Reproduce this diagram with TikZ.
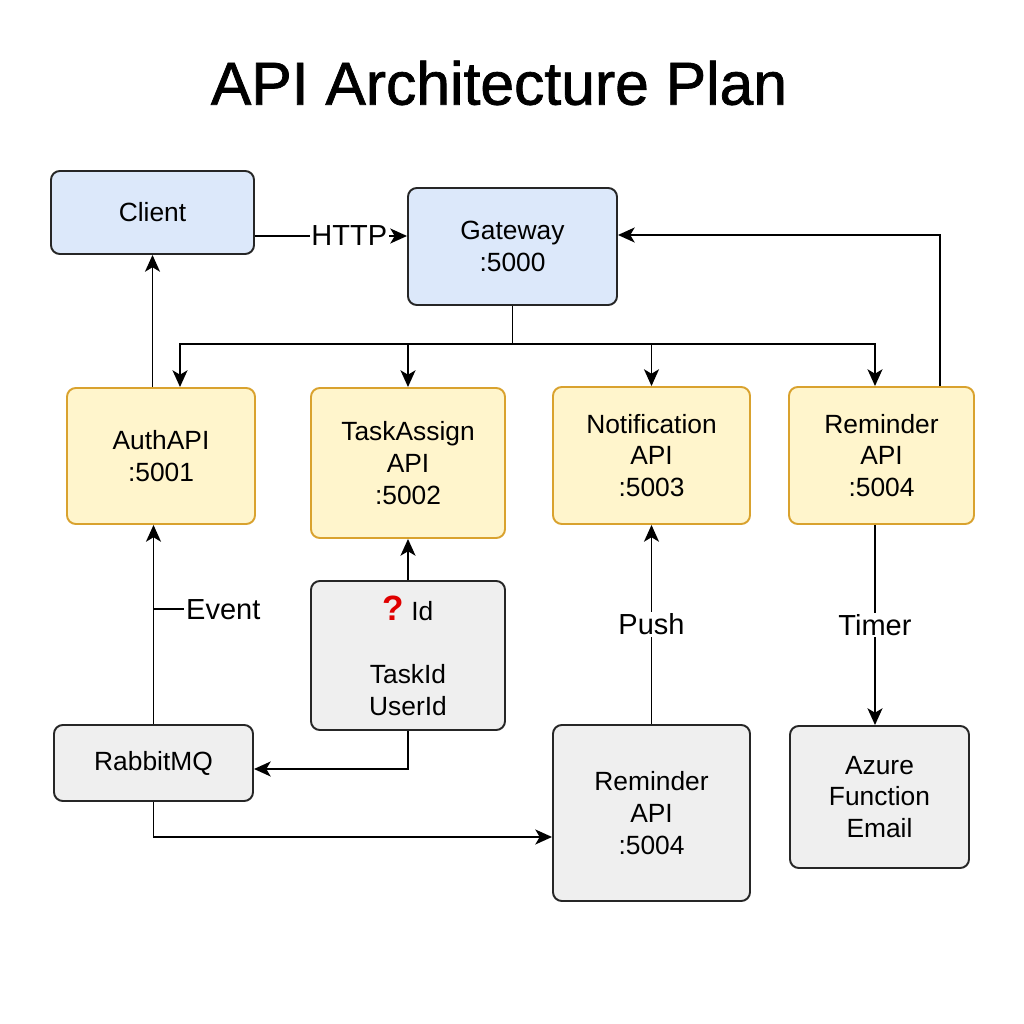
\documentclass[tikz,border=0pt]{standalone}
\usepackage{fontspec}
\setmainfont{Liberation Sans}
\newfontfamily\titlefont[FakeBold=1.2]{Liberation Sans}
\usepackage{xcolor}
\usetikzlibrary{arrows.meta,positioning}

\definecolor{gwblue}{HTML}{DCE8FA}
\definecolor{apiyellow}{HTML}{FFF5CC}
\definecolor{apiborder}{HTML}{D9A22E}
\definecolor{msggray}{HTML}{EFEFEF}
\definecolor{qred}{HTML}{E00000}

\tikzset{
  box/.style={draw=black!85, line width=1.1pt, rounded corners=5pt, align=center,
    font=\fontsize{15}{18}\selectfont, inner sep=0pt},
  bluebox/.style={box, fill=gwblue},
  apibox/.style={box, fill=apiyellow, draw=apiborder},
  graybox/.style={box, fill=msggray},
  arr/.style={-{Stealth[length=9.5pt,width=8.5pt,inset=2.5pt]}, line width=1.1pt},
  lbl/.style={fill=white, inner sep=1pt, font=\fontsize{16.5}{20}\selectfont}
}

\begin{document}
\begin{tikzpicture}
  \useasboundingbox (0,0) rectangle (20.48,20.48);

  \node (title) at (9.98,18.82) {\titlefont\fontsize{34.5}{40}\selectfont API Architecture Plan};

  % client and gateway
  \node[bluebox, minimum width=4.06cm, minimum height=1.66cm] (client) at (3.05,16.23) {Client};
  \node[bluebox, minimum width=4.18cm, minimum height=2.34cm] (gw) at (10.25,15.55) {Gateway\\:5000};

  % services
  \node[apibox, minimum width=3.76cm, minimum height=2.72cm] (auth) at (3.22,11.36) {AuthAPI\\:5001};
  \node[apibox, minimum width=3.88cm, minimum height=3.00cm] (task) at (8.16,11.22) {TaskAssign\\API\\:5002};
  \node[apibox, minimum width=3.94cm, minimum height=2.74cm] (notif) at (13.03,11.37) {Notification\\API\\:5003};
  \node[apibox, minimum width=3.70cm, minimum height=2.74cm] (rem) at (17.63,11.37) {Reminder\\API\\:5004};

  % lower row
  \node[graybox, minimum width=3.88cm, minimum height=2.98cm] (ids) at (8.16,7.37)
    {{\color{qred}\bfseries\fontsize{20}{18}\selectfont ?}~Id\\ \\TaskId\\UserId};
  \node[graybox, minimum width=3.98cm, minimum height=1.52cm] (rabbit) at (3.07,5.22) {RabbitMQ};
  \node[graybox, minimum width=3.94cm, minimum height=3.52cm] (remlow) at (13.03,4.22) {Reminder\\API\\:5004};
  \node[graybox, minimum width=3.58cm, minimum height=2.84cm] (azure) at (17.59,4.54) {Azure\\Function\\Email};

  % gateway fan-out
  \coordinate (bus) at ([yshift=-0.76cm]gw.south);
  \draw[line width=1.1pt] (gw.south) -- (bus);
  \draw[arr] (bus) -| ([xshift=0.38cm]auth.north);
  \draw[arr] (bus) -| (task.north);
  \draw[arr] (bus) -| (notif.north);
  \draw[arr] (bus) -| ([xshift=-0.13cm]rem.north);

  \draw[arr] (client.east |- 0,15.76) -- node[lbl, pos=0.62] {HTTP} (gw.west |- 0,15.76);
  \draw[arr] ([xshift=1.17cm]rem.north) |- ([yshift=0.23cm]gw.east);
  \draw[arr] (client.south |- auth.north) -- (client.south);

  % messaging
  \draw[arr] (rabbit.north) -- coordinate[pos=0.577] (ev) (rabbit.north |- auth.south);
  \draw[line width=1.1pt] (ev) -- ++(0.6,0) node[right, lbl, fill=none] (evlbl) {Event};
  \draw[arr] (ids.north) -- (task.south);
  \draw[arr] (ids.south) |- ([yshift=-0.12cm]rabbit.east);
  \draw[arr] (rabbit.south) |- ([yshift=-0.48cm]remlow.west);
  \draw[arr] (remlow.north) -- node[lbl] {Push} (notif.south);
  \draw[arr] ([xshift=-0.13cm]rem.south) -- node[lbl] {Timer} ([xshift=-0.13cm]rem.south |- azure.north);

\end{tikzpicture}
\end{document}
